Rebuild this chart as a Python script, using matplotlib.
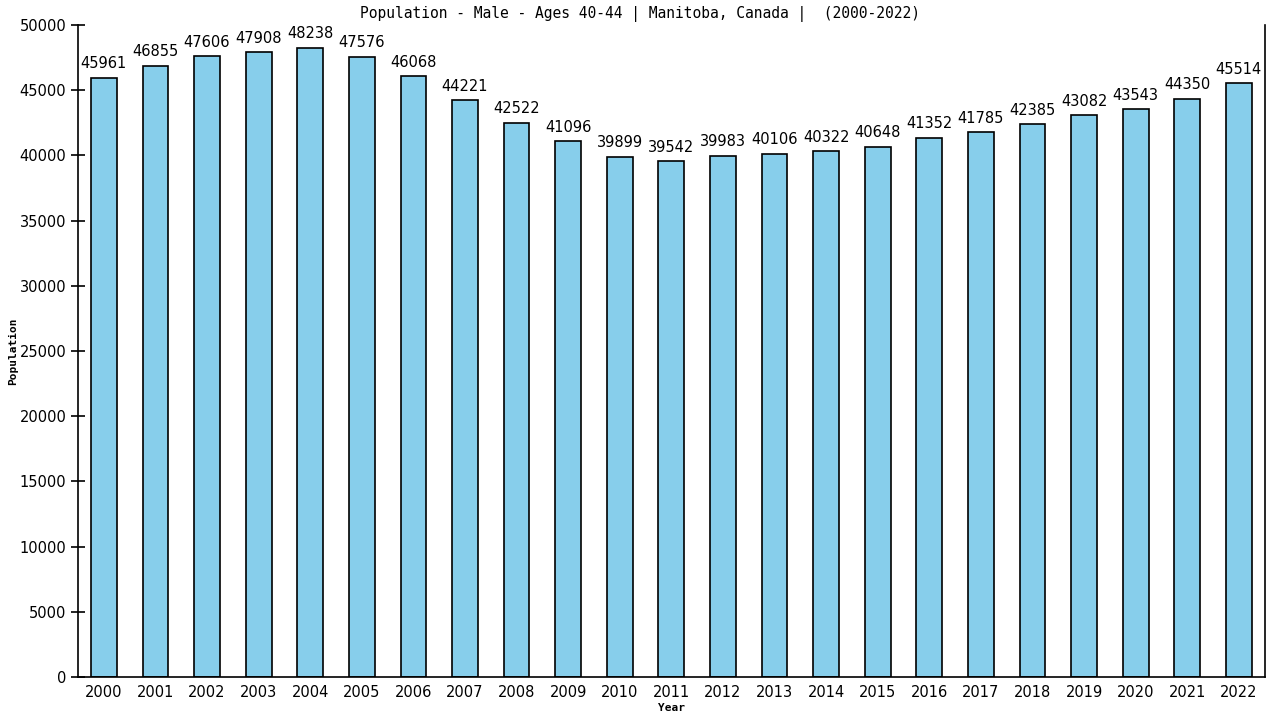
import matplotlib
matplotlib.use("Agg")
import matplotlib.pyplot as plt

years = [str(y) for y in range(2000, 2023)]
population = [45961, 46855, 47606, 47908, 48238, 47576, 46068, 44221, 42522,
              41096, 39899, 39542, 39983, 40106, 40322, 40648, 41352, 41785,
              42385, 43082, 43543, 44350, 45514]
yticks = list(range(0, 50001, 5000))

fig = plt.figure(figsize=(12.8, 7.2), dpi=100)
ax = fig.add_axes([0.061, 0.0597, 0.927, 0.9056])

x = list(range(len(years)))
ax.bar(x, population, width=0.5, color="#87CEEB", edgecolor="black", linewidth=1.2)

for xi, v in zip(x, population):
    ax.text(xi, v + 500, str(v), ha="center", va="bottom",
            fontsize=10.5, family="DejaVu Sans")

ax.set_xlim(-0.5, len(years) - 0.5)
ax.set_ylim(0, 50000)
ax.set_xticks(x)
ax.set_xticklabels(years, fontsize=10.5)
ax.set_yticks(yticks)
ax.set_yticklabels([str(t) for t in yticks], fontsize=10.5)
ax.tick_params(axis="x", length=0, pad=6)
ax.tick_params(axis="y", direction="inout", length=10, width=1.2)

ax.spines["top"].set_visible(False)
for s in ["left", "right", "bottom"]:
    ax.spines[s].set_linewidth(1.2)

ax.set_xlabel("Year", fontsize=8, family="DejaVu Sans Mono", fontweight="bold", labelpad=2)
ax.set_ylabel("Population", fontsize=8, family="DejaVu Sans Mono", fontweight="bold",
              va="center", ha="center")
ax.yaxis.set_label_coords(-0.0548, 0.5)
fig.suptitle("Population - Male - Ages 40-44 | Manitoba, Canada |  (2000-2022)",
             y=0.992, fontsize=10.5, family="DejaVu Sans Mono")

fig.savefig("out.png", dpi=100)
